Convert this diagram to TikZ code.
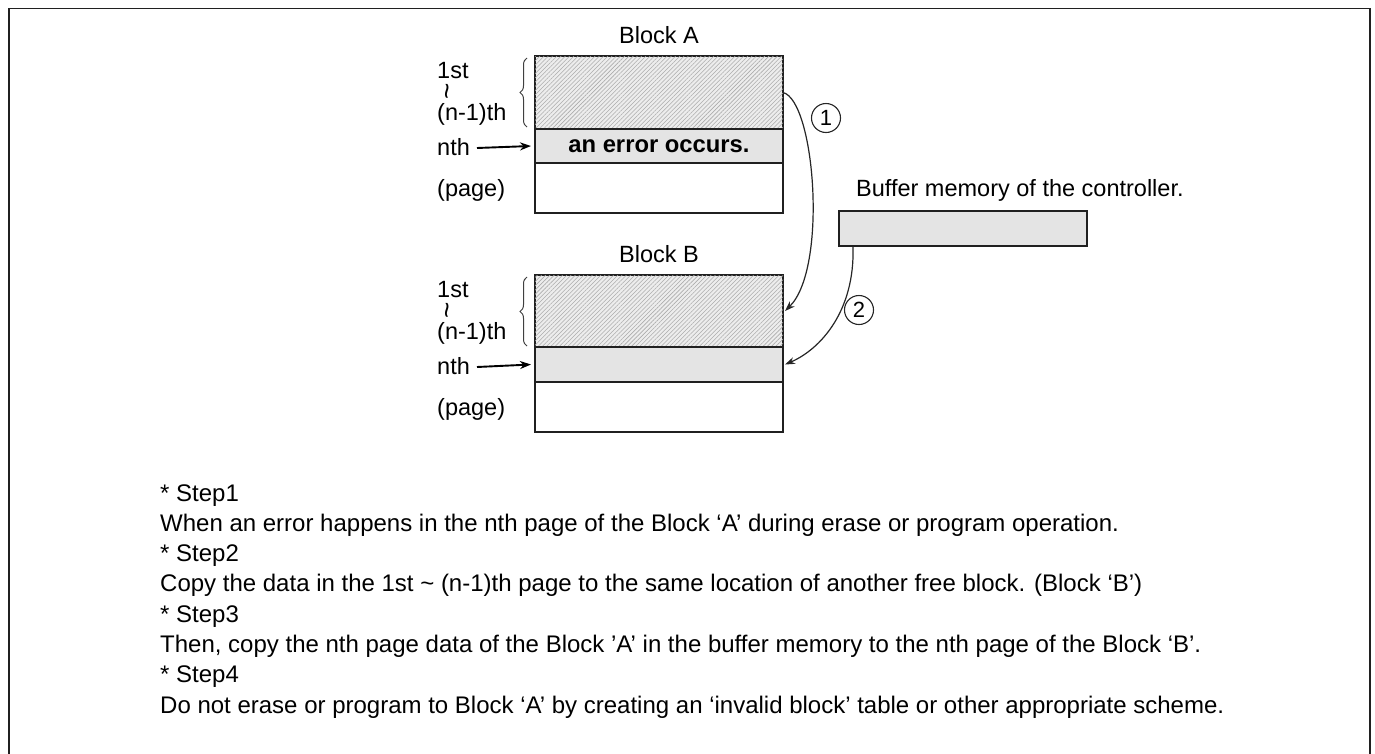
\documentclass[tikz,border=0pt]{standalone}
\usepackage{fontspec}
\setmainfont{Liberation Sans}
\usetikzlibrary{arrows.meta,patterns.meta,decorations.pathreplacing,calc}
\definecolor{rowgray}{HTML}{E4E4E4}
\definecolor{framec}{HTML}{202020}
\begin{document}
\begin{tikzpicture}[x=1pt,y=-1pt,
  row/.style={draw=framec, line width=1.6pt, minimum width=248pt, inner sep=0pt, outer sep=0pt, anchor=north west},
  hatch/.style={fill=gray!14, postaction={pattern={Lines[angle=45,distance=3pt,line width=0.55pt]}, pattern color=gray!65}},
  grayrow/.style={fill=rowgray},
  lbl/.style={font=\fontsize{23.5}{28}\selectfont, inner sep=0pt, anchor=base west},
  ttl/.style={font=\fontsize{23.5}{28}\selectfont, inner sep=0pt, anchor=base},
  body/.style={font=\fontsize{24}{28}\selectfont, inner sep=0pt, anchor=base west},
  vtil/.style={font=\fontsize{28}{28}\selectfont, inner sep=0pt, rotate=90},
  brc/.style={draw=black!75, line width=1pt, decorate, decoration={brace, amplitude=7pt}},
  harrow/.style={line width=1.9pt, -{Stealth[length=11pt,width=8pt]}},
  carrow/.style={line width=1.2pt, black!85, -{Stealth[length=10pt,width=7pt]}},
  circ/.style={circle, draw=black!85, line width=1.1pt, minimum size=29pt, inner sep=0pt, font=\fontsize{22}{22}\selectfont}
]
\useasboundingbox (0,0) rectangle (1375,753);
\fill[white] (0,0) rectangle (1375,753);
\draw[line width=1.8pt, framec] (9,8.5) rectangle (1370,780);

% Block A
\node[ttl] (ta) at (659,43) {Block A};
\node[row, hatch, minimum height=73pt] (aH) at (535,56) {};
\node[row, grayrow, minimum height=34pt, font=\fontsize{23.8}{28}\selectfont\bfseries] (aN) at (535,129) {an error occurs.};
\node[row, minimum height=50pt] (aP) at (535,163) {};
\node[lbl] (a1) at (437,78) {1st};
\node[vtil] (at) at (451,91) {\textasciitilde};
\node[lbl] (a2) at (437,120) {(n-1)th};
\node[lbl] (a3) at (437,155) {nth};
\node[lbl] (a4) at (437,196) {(page)};
\draw[brc] (527,127) -- (527,58);
\coordinate (a3e) at (477,148);
\draw[harrow] (a3e) -- ($(aN.west)+(-4,0)$);

% Block B
\node[ttl] (tb) at (659,262) {Block B};
\node[row, hatch, minimum height=72pt] (bH) at (535,275) {};
\node[row, grayrow, minimum height=35pt] (bN) at (535,347) {};
\node[row, minimum height=50pt] (bP) at (535,382) {};
\node[lbl] (b1) at (437,297) {1st};
\node[vtil] (bt) at (451,310) {\textasciitilde};
\node[lbl] (b2) at (437,339) {(n-1)th};
\node[lbl] (b3) at (437,374) {nth};
\node[lbl] (b4) at (437,415) {(page)};
\draw[brc] (527,346) -- (527,277);
\coordinate (b3e) at (477,367);
\draw[harrow] (b3e) -- ($(bN.west)+(-4,0)$);

% Buffer
\node[lbl] (bufl) at (856,196) {Buffer memory of the controller.};
\node[draw=framec, line width=1.6pt, fill=rowgray, minimum width=248pt, minimum height=35pt, inner sep=0pt, anchor=north west] (buf) at (838,210) {};

% Connectors
\draw[carrow] (aH.east) .. controls ($(aH.east)+(32,8)$) and ($(bH.east)+(45,-42)$) .. ($(bH.east)+(2,0)$);
\coordinate (bufs) at ($(buf.south west)+(15,0)$);
\draw[carrow] (bufs) .. controls ($(bufs)+(2,65)$) and ($(bN.east)+(37,-15)$) .. ($(bN.east)+(2,0)$);
\node[circ] (c1) at (826,118) {1};
\node[circ] (c2) at (859,310) {2};

% Steps text
\node[body] (s1) at (160,501) {* Step1};
\node[body] (t1) at (160,531.3) {When an error happens in the nth page of the Block ‘A’ during erase or program operation.};
\node[body] (s2) at (160,561.6) {* Step2};
\node[body] (t2) at (160,591.9) {Copy the data in the 1st \textasciitilde{} (n-1)th page to the same location of another free block. (Block ‘B’)};
\node[body] (s3) at (160,622.2) {* Step3};
\node[body] (t3) at (160,652.5) {Then, copy the nth page data of the Block ’A’ in the buffer memory to the nth page of the Block ‘B’.};
\node[body] (s4) at (160,682.8) {* Step4};
\node[body] (t4) at (160,713.1) {Do not erase or program to Block ‘A’ by creating an ‘invalid block’ table or other appropriate scheme.};
\end{tikzpicture}
\end{document}
